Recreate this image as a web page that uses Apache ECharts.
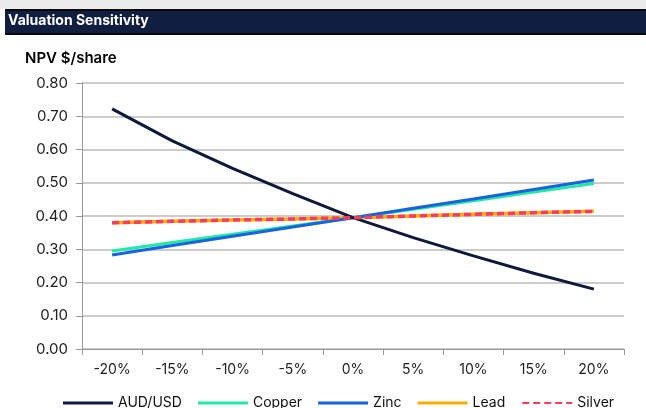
<!DOCTYPE html>
<html><head><meta charset="utf-8">
<script src="https://cdn.jsdelivr.net/npm/echarts@6/dist/echarts.min.js"></script>
<style>html,body{margin:0;padding:0;background:#fff}#c{width:646px;height:408px}</style>
</head><body><div id="c"></div>
<script>
const categories = ['-20%','-15%','-10%','-5%','0%','5%','10%','15%','20%'];
const audusd = [0.722,0.626,0.543,0.467,0.395,0.335,0.280,0.228,0.180];
const copper = [0.295,0.320,0.345,0.370,0.395,0.420,0.446,0.472,0.498];
const zinc   = [0.283,0.311,0.339,0.367,0.395,0.423,0.451,0.480,0.508];
const lead   = [0.380,0.384,0.388,0.391,0.395,0.400,0.405,0.410,0.414];
const silver = [0.380,0.384,0.388,0.391,0.395,0.400,0.405,0.410,0.414];
const yTicks = [0,0.1,0.2,0.3,0.4,0.5,0.6,0.7,0.8];

const font = 'Inter, "Noto Sans", sans-serif';
const chart = echarts.init(document.getElementById('c'));
function line(name, data, color, dashed, z, w){
  return {name, type:'line', data, symbol:'none', smooth:false, z,
    lineStyle:{color, width:w||3, type: dashed ? [7,4] : 'solid'}, itemStyle:{color}};
}
chart.setOption({
  animation:false,
  graphic:[
    {type:'rect', shape:{x:0,y:0,width:646,height:9}, style:{fill:'#ececec'}},
    {type:'rect', shape:{x:5,y:9,width:641,height:26}, style:{fill:'#0a0a0a'}},
    {type:'rect', shape:{x:5,y:11,width:641,height:22}, style:{fill:'#101e40'}},
    {type:'text', left:8, top:14, style:{text:'Valuation Sensitivity', fill:'#fff', font:'bold 14px '+font}},
    {type:'text', left:25, top:51, style:{text:'NPV $/share', fill:'#000', font:'600 15px '+font}}
  ],
  grid:{left:82, right:22, top:83, bottom:59},
  legend:{top:391, left:58, itemWidth:50, itemHeight:3, itemGap:16,
    textStyle:{fontSize:14, color:'#111', fontFamily:font},
    data:[
      {name:'AUD/USD', icon:'rect'},{name:'Copper', icon:'rect'},{name:'Zinc', icon:'rect'},{name:'Lead', icon:'rect'},{name:'Silver'}
    ]},
  xAxis:{type:'category', data:categories, boundaryGap:true,
    axisLine:{lineStyle:{color:'#999', width:1}},
    axisTick:{show:true, length:6, lineStyle:{color:'#999'}},
    axisLabel:{fontSize:14, color:'#222', fontFamily:font, margin:14},
    splitLine:{show:false}},
  yAxis:{type:'value', min:0, max:0.8, interval:0.1,
    axisLine:{show:true, lineStyle:{color:'#999'}},
    axisTick:{show:true, length:6, inside:false, lineStyle:{color:'#999'}},
    axisLabel:{fontSize:15, color:'#222', fontFamily:font, margin:14, formatter:v=>v.toFixed(2)},
    splitLine:{show:true, lineStyle:{color:'#bbb', width:1.5}}},
  series:[
    line('AUD/USD', audusd, '#0d1a3c', false, 5),
    line('Copper', copper, '#1eeaa2', false, 3),
    line('Zinc', zinc, '#1a63e0', false, 4),
    line('Lead', lead, '#ffaa00', false, 3, 3.5),
    line('Silver', silver, '#ff3a5c', true, 6, 3.5)
  ]
});
</script></body></html>
